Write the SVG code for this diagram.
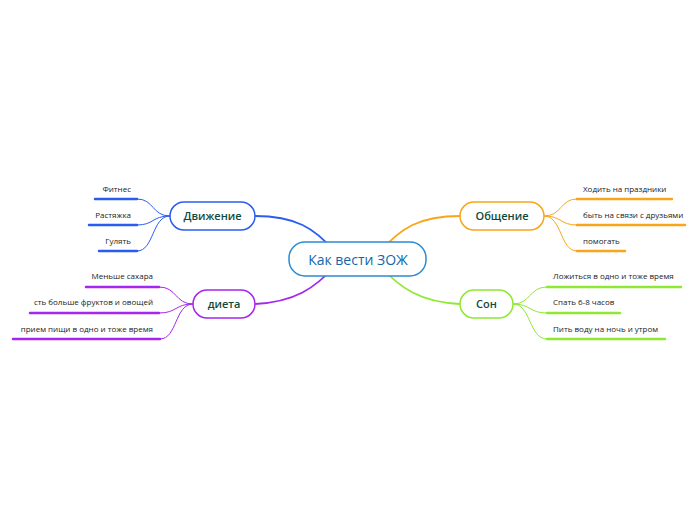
<svg xmlns="http://www.w3.org/2000/svg" width="696" height="520" viewBox="0 0 696 520">
<style>
.leaf{font-family:"Open Sans","Liberation Sans",sans-serif;font-size:8px;fill:#222}
.nt{font-family:"Open Sans","Liberation Sans",sans-serif;font-size:11px;font-weight:600;fill:#0e4a3c;text-anchor:middle}
.c{fill:none;stroke-width:1}
.m{fill:none;stroke-width:1.8}
.u{stroke-width:2.5;stroke-linecap:round}
.box{fill:#fff;stroke-width:1.5}
.blue{stroke:#2a5cf2}
.orange{stroke:#f9a51a}
.purple{stroke:#a526ee}
.green{stroke:#8fe832}
</style>
<rect width="696" height="520" fill="#fff"/>
<g id="connectors">
<path class="m blue" d="M255 216 C295 216 315 228 335 252"/>
<path class="m orange" d="M460 216 C420 216 400 228 380 252"/>
<path class="m purple" d="M255 304 C295 302 315 288 335 266"/>
<path class="m green" d="M460 304 C420 302 400 288 380 266"/>
<path class="c blue" d="M170 216 C152 216 154 199 137 199"/>
<path class="c blue" d="M170 216 C152 216 154 225 137 225"/>
<path class="c blue" d="M170 216 C152 216 154 251 137 251"/>
<path class="c purple" d="M193 304 C175 304 177 287 159 287"/>
<path class="c purple" d="M193 304 C175 304 177 313 159 313"/>
<path class="c purple" d="M193 304 C175 304 177 339 160 339"/>
<path class="c orange" d="M544 216 C562 216 560 199 577 199"/>
<path class="c orange" d="M544 216 C562 216 560 225 577 225"/>
<path class="c orange" d="M544 216 C562 216 560 251 577 251"/>
<path class="c green" d="M513 304 C531 304 529 287 547 287"/>
<path class="c green" d="M513 304 C531 304 529 313 547 313"/>
<path class="c green" d="M513 304 C531 304 529 339 547 339"/>
</g>
<g id="center">
<rect x="289" y="242" width="137" height="34" rx="16" fill="#fff" stroke="#2b8ad2" stroke-width="1.5"/>
<text x="358" y="264.5" text-anchor="middle" font-family="'Open Sans','Liberation Sans',sans-serif" font-size="14" fill="#1566a8">Как вести ЗОЖ</text>
</g>
<g id="dvizhenie">
<rect class="box blue" x="170" y="202" width="85" height="28" rx="14"/>
<text class="nt" x="212.5" y="220">Движение</text>
</g>
<g id="dieta">
<rect class="box purple" x="193" y="290" width="62" height="28" rx="14"/>
<text class="nt" x="224" y="308">диета</text>
</g>
<g id="obshchenie">
<rect class="box orange" x="460" y="202" width="84" height="28" rx="14"/>
<text class="nt" x="502" y="220">Общение</text>
</g>
<g id="son">
<rect class="box green" x="460" y="290" width="53" height="28" rx="14"/>
<text class="nt" x="486.5" y="308">Сон</text>
</g>
<g id="leaf-fitnes"><line class="u blue" x1="95" y1="199" x2="137" y2="199"/><text class="leaf" x="131" y="192" text-anchor="end">Фитнес</text></g>
<g id="leaf-rastyazhka"><line class="u blue" x1="89" y1="225" x2="137" y2="225"/><text class="leaf" x="131" y="218" text-anchor="end">Растяжка</text></g>
<g id="leaf-gulyat"><line class="u blue" x1="99" y1="251" x2="137" y2="251"/><text class="leaf" x="131" y="244" text-anchor="end">Гулять</text></g>
<g id="leaf-sakhar"><line class="u purple" x1="86" y1="287" x2="159" y2="287"/><text class="leaf" x="153" y="279" text-anchor="end">Меньше сахара</text></g>
<g id="leaf-frukty"><line class="u purple" x1="30" y1="313" x2="159" y2="313"/><text class="leaf" x="153" y="305" text-anchor="end">сть больше фруктов и овощей</text></g>
<g id="leaf-priem"><line class="u purple" x1="13" y1="339" x2="160" y2="339"/><text class="leaf" x="153" y="332" text-anchor="end">прием пищи в  одно  и тоже время</text></g>
<g id="leaf-prazdniki"><line class="u orange" x1="577" y1="199" x2="672" y2="199"/><text class="leaf" x="583" y="192">Ходить на праздники</text></g>
<g id="leaf-svyaz"><line class="u orange" x1="577" y1="225" x2="685" y2="225"/><text class="leaf" x="583" y="218">быть на связи с друзьями</text></g>
<g id="leaf-pomogat"><line class="u orange" x1="577" y1="251" x2="625" y2="251"/><text class="leaf" x="583" y="244">помогать</text></g>
<g id="leaf-lozhitsya"><line class="u green" x1="547" y1="287" x2="681" y2="287"/><text class="leaf" x="553" y="279">Ложиться в одно и тоже время</text></g>
<g id="leaf-spat"><line class="u green" x1="547" y1="313" x2="620" y2="313"/><text class="leaf" x="553" y="305">Спать 6-8 часов</text></g>
<g id="leaf-pit"><line class="u green" x1="547" y1="339" x2="665" y2="339"/><text class="leaf" x="553" y="332">Пить воду на ночь и утром</text></g>
</svg>
